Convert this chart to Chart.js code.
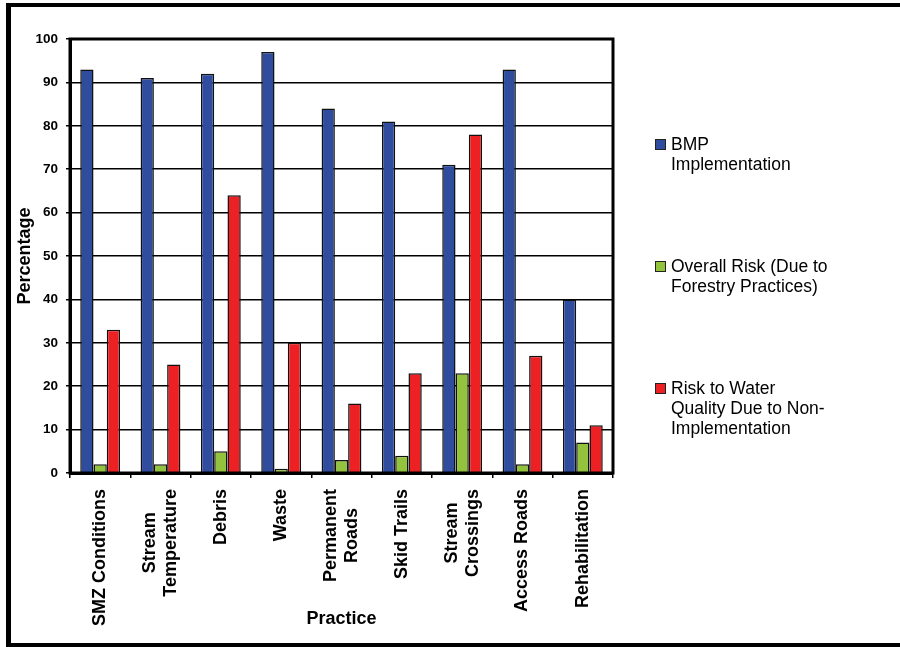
<!DOCTYPE html>
<html lang="en">
<head>
  <meta charset="UTF-8" />
  <title>BMP Implementation and Risk by Practice</title>
  <style>
    body {
      margin: 0;
      background: #fff;
      width: 900px;
      height: 647px;
      overflow: hidden;
      position: relative;
      font-family: "Liberation Sans", Arial, sans-serif;
    }
    #chart {
      position: absolute;
      left: 0;
      top: 0;
    }
    #frame {
      position: absolute;
      left: 6px;
      top: 3px;
      width: 1000px;
      height: 636px;
      border-left: 5px solid #000;
      border-top: 4px solid #000;
      border-bottom: 4px solid #000;
      pointer-events: none;
    }
    .legend-item {
      position: absolute;
      left: 655px;
      font-size: 17.5px;
      line-height: 20px;
      color: #000;
    }
    .legend-item .box {
      position: absolute;
      left: 0;
      top: 5px;
      width: 9px;
      height: 9px;
      border: 1px solid #222;
    }
    .legend-item .text {
      margin-left: 16px;
      white-space: nowrap;
    }
  </style>
</head>
<body>
  <canvas id="chart" width="900" height="647"></canvas>
  <div id="frame"></div>
  <div id="legend"></div>

  <script src="https://cdn.jsdelivr.net/npm/chart.js"></script>
  <script>
    const PRACTICES = [
      ['SMZ Conditions'],
      ['Stream', 'Temperature'],
      ['Debris'],
      ['Waste'],
      ['Permanent', 'Roads'],
      ['Skid Trails'],
      ['Stream', 'Crossings'],
      ['Access Roads'],
      ['Rehabilitation']
    ];
    const BMP_IMPLEMENTATION = [93, 91, 92, 97, 84, 81, 71, 93, 40];
    const OVERALL_RISK = [2, 2, 5, 1, 3, 4, 23, 2, 7];
    const RISK_NON_IMPL = [33, 25, 64, 30, 16, 23, 78, 27, 11];
    const SERIES_NAMES = [
      ['BMP', 'Implementation'],
      ['Overall Risk (Due to', 'Forestry Practices)'],
      ['Risk to Water', 'Quality Due to Non-', 'Implementation']
    ];
    const SERIES_COLORS = ['#2f4c9f', '#93c23d', '#ed2024'];
    const Y_MIN = 0, Y_MAX = 100, Y_STEP = 10;

    const FONT = '"Liberation Sans", Arial, sans-serif';

    // rotated category labels, multi-line ones centred on each other like Excel does
    const xLabelPlugin = {
      id: 'xLabels',
      afterDraw(chart) {
        const ctx = chart.ctx;
        const xs = chart.scales.x;
        const top = 489;
        const lh = 21;
        ctx.save();
        ctx.font = 'bold 18px ' + FONT;
        ctx.fillStyle = '#000';
        ctx.textAlign = 'center';
        ctx.textBaseline = 'middle';
        PRACTICES.forEach((lines, i) => {
          const x = xs.getPixelForValue(i);
          const w = Math.max(...lines.map(l => ctx.measureText(l).width));
          ctx.save();
          ctx.translate(x, top + w / 2);
          ctx.rotate(-Math.PI / 2);
          lines.forEach((l, j) => {
            ctx.fillText(l, 0, (j - (lines.length - 1) / 2) * lh);
          });
          ctx.restore();
        });
        ctx.restore();
      }
    };

    const frameBox = {
      id: 'plotFrame',
      afterDraw(chart) {
        const a = chart.chartArea;
        const ctx = chart.ctx;
        ctx.save();
        ctx.strokeStyle = '#000';
        ctx.lineWidth = 3;
        ctx.strokeRect(a.left, a.top, a.right - a.left, a.bottom - a.top);
        ctx.restore();
      }
    };

    const datasets = [BMP_IMPLEMENTATION, OVERALL_RISK, RISK_NON_IMPL].map((vals, i) => ({
      label: SERIES_NAMES[i].join(' '),
      data: vals,
      backgroundColor: SERIES_COLORS[i],
      borderColor: '#111',
      borderWidth: 1.5,
      categoryPercentage: 0.66,
      barPercentage: 1.0
    }));

    new Chart(document.getElementById('chart'), {
      type: 'bar',
      data: { labels: PRACTICES, datasets },
      options: {
        responsive: false,
        animation: false,
        layout: { padding: { top: 39, right: 287, left: 0, bottom: 0 } },
        plugins: {
          legend: { display: false },
          tooltip: { enabled: false }
        },
        scales: {
          x: {
            offset: true,
            grid: {
              offset: true,
              drawOnChartArea: false,
              drawTicks: true,
              tickLength: 5,
              color: '#000',
              lineWidth: 1.5
            },
            border: { display: true, color: '#000', width: 3 },
            ticks: { display: false },
            title: {
              display: true,
              text: 'Practice',
              color: '#000',
              font: { family: FONT, size: 18, weight: 'bold' },
              padding: { top: 0, bottom: 17 }
            },
            afterFit(scale) { scale.height = 174; }
          },
          y: {
            min: Y_MIN,
            max: Y_MAX,
            ticks: {
              stepSize: Y_STEP,
              color: '#000',
              padding: 8,
              font: { family: FONT, size: 13.5, weight: 'bold' }
            },
            grid: {
              color: '#000',
              lineWidth: 1.5,
              tickLength: 4
            },
            border: { display: true, color: '#000', width: 3 },
            title: {
              display: true,
              text: 'Percentage',
              color: '#000',
              font: { family: FONT, size: 18, weight: 'bold' },
              padding: { top: 14, bottom: 0 }
            },
            afterFit(scale) { scale.width = 70; }
          }
        }
      },
      plugins: [xLabelPlugin, frameBox]
    });

    // legend on the right, one block per series
    const LEGEND_TOPS = [134, 256, 378];
    const legend = document.getElementById('legend');
    SERIES_NAMES.forEach((lines, i) => {
      const item = document.createElement('div');
      item.className = 'legend-item';
      item.style.top = LEGEND_TOPS[i] + 'px';
      const box = document.createElement('div');
      box.className = 'box';
      box.style.background = SERIES_COLORS[i];
      const text = document.createElement('div');
      text.className = 'text';
      text.innerHTML = lines.join('<br>');
      item.appendChild(box);
      item.appendChild(text);
      legend.appendChild(item);
    });
  </script>
</body>
</html>
